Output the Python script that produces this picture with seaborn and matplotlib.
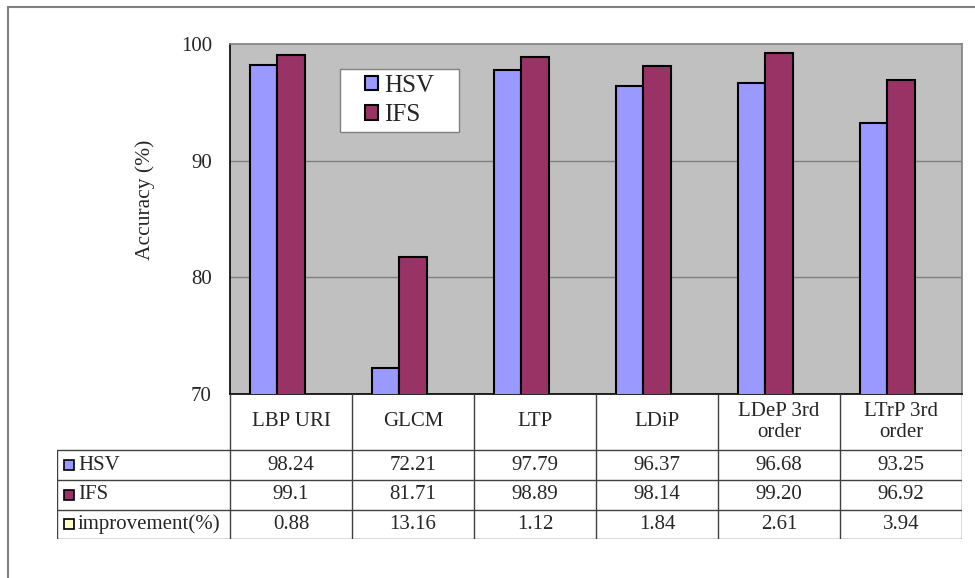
import matplotlib
matplotlib.use("Agg")
import matplotlib.pyplot as plt
from matplotlib.patches import Patch, Rectangle
from matplotlib.lines import Line2D
import pandas as pd
import seaborn as sns

# ---- data -------------------------------------------------------------
categories = ["LBP URI", "GLCM", "LTP", "LDiP", "LDeP 3rd\norder", "LTrP 3rd\norder"]
series_names = ["HSV", "IFS", "improvement(%)"]
hsv_text = ["98.24", "72.21", "97.79", "96.37", "96.68", "93.25"]
ifs_text = ["99.1", "81.71", "98.89", "98.14", "99.20", "96.92"]
imp_text = ["0.88", "13.16", "1.12", "1.84", "2.61", "3.94"]
series_colors = ["#9999FF", "#993366", "#FFFFCC"]
y_ticks = [70, 80, 90, 100]

series_text = [hsv_text, ifs_text, imp_text]
rows = []
for name, texts in zip(series_names, series_text):
    for cat, t in zip(categories, texts):
        rows.append({"method": cat, "series": name, "acc": float(t)})
df = pd.DataFrame(rows)

# ---- style ------------------------------------------------------------
sns.set_style("white")
plt.rcParams["font.family"] = ["Liberation Serif", "DejaVu Serif"]
FS = 15
plt.rcParams["font.size"] = FS

W, H = 975, 578
fig = plt.figure(figsize=(W / 100, H / 100), dpi=100)


def px_rect(x0, y0, x1, y1):
    return [x0 / W, 1 - y1 / H, (x1 - x0) / W, (y1 - y0) / H]


# ---- bar chart --------------------------------------------------------
ax = fig.add_axes(px_rect(230, 44, 962, 394))
ax.set_facecolor("#C0C0C0")
sns.barplot(data=df, x="method", y="acc", hue="series", order=categories,
            hue_order=series_names, palette=series_colors, saturation=1,
            width=0.664, edgecolor="black", linewidth=1.5, ax=ax,
            legend=False, zorder=3)
ax.set_ylim(70, 100)
ax.set_xlim(-0.5, len(categories) - 0.5)
ax.set_yticks(y_ticks)
ax.set_xticks([])
ax.set_xlabel("")
ax.set_ylabel("")
ax.tick_params(axis="y", length=0, pad=13, labelsize=FS)
for y in y_ticks[1:-1]:
    ax.axhline(y, color="#808080", lw=1, zorder=1)
for side in ("top", "right"):
    ax.spines[side].set_color("#808080")
    ax.spines[side].set_linewidth(1.2)
for side in ("left", "bottom"):
    ax.spines[side].set_color("black")
    ax.spines[side].set_linewidth(1.2)

fig.text(145 / W, 1 - 200 / H, "Accuracy (%)", rotation=90,
         ha="center", va="center", fontsize=FS + 0.5)

# legend: white box with gray border, entries centred inside it
lx0, ly0, lx1, ly1 = 340, 69, 459, 132
ax_w, ax_h = 732.0, 350.0
ax.add_patch(Rectangle(((lx0 - 230) / ax_w, (394 - ly1) / ax_h),
                       (lx1 - lx0) / ax_w, (ly1 - ly0) / ax_h,
                       transform=ax.transAxes, facecolor="white",
                       edgecolor="#808080", lw=1, zorder=4))
handles = [Patch(facecolor=c, edgecolor="black", linewidth=1.5)
           for c in series_colors[:2]]
leg = ax.legend(handles, series_names[:2], loc="center",
                bbox_to_anchor=(((lx0 + lx1) / 2 - 230) / ax_w,
                                (394 - (ly0 + ly1) / 2) / ax_h),
                fontsize=18, frameon=False,
                handlelength=0.52, handleheight=0.52, handletextpad=0.25,
                labelspacing=0.3, borderpad=0, borderaxespad=0)
leg.set_zorder(5)

# ---- data table -------------------------------------------------------
col_w = 122.0
left_w = (230 - 57) / col_w
tab = fig.add_axes(px_rect(57, 394, 962, 539))
x_left = -0.5 - left_w
x_right = len(categories) - 0.5
row_edges = [0, 56, 86, 115.5, 145]
tab.set_xlim(x_left, x_right)
tab.set_ylim(row_edges[-1], row_edges[0])
tab.axis("off")

line_kw = dict(color="#404040", lw=1)
for i in range(len(categories) + 1):
    tab.plot([i - 0.5, i - 0.5], [row_edges[0], row_edges[-1]], **line_kw)
tab.plot([x_left, x_left], [row_edges[1], row_edges[-1]], **line_kw)
for y in row_edges[1:]:
    tab.plot([x_left, x_right], [y, y], **line_kw)

header_y = (row_edges[0] + row_edges[1]) / 2
for i, cat in enumerate(categories):
    tab.text(i, header_y, cat, ha="center", va="center", fontsize=FS,
             linespacing=1.1)

for r, (name, texts, color) in enumerate(zip(series_names, series_text,
                                             series_colors)):
    yc = (row_edges[r + 1] + row_edges[r + 2]) / 2
    tab.plot([x_left + 11.5 / col_w], [yc], marker="s", markersize=7.5,
             mfc=color, mec="black", mew=1.2, clip_on=False)
    tab.text(x_left + 21 / col_w, yc, name, ha="left", va="center",
             fontsize=FS)
    for i, t in enumerate(texts):
        tab.text(i, yc, t, ha="center", va="center", fontsize=FS)

# ---- outer frame ------------------------------------------------------
fig.add_artist(Line2D([8 / W, 1], [1 - 7 / H, 1 - 7 / H], color="#808080",
                      lw=1.5, transform=fig.transFigure))
fig.add_artist(Line2D([8 / W, 8 / W], [1 - 7 / H, 0], color="#808080",
                      lw=1.5, transform=fig.transFigure))

fig.savefig("out.png", dpi=100, facecolor="white")
